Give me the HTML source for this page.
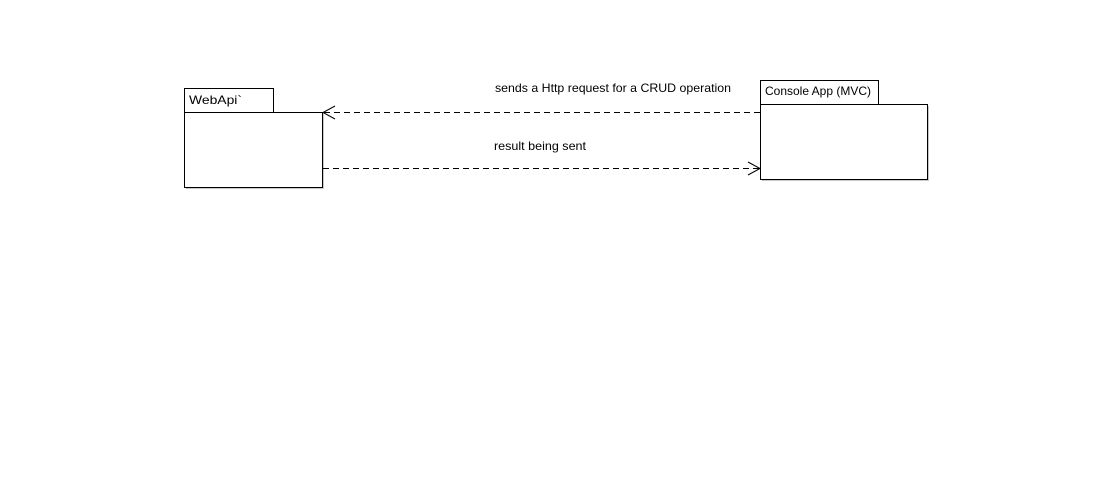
<!DOCTYPE html>
<html><head><meta charset="utf-8"><style>
html,body{margin:0;padding:0;background:#fff;width:1112px;height:478px;overflow:hidden}
svg{display:block}
text{font-family:"Liberation Sans",sans-serif;font-size:12px;fill:#000}
</style></head><body>
<svg width="1112" height="478" viewBox="0 0 1112 478" xmlns="http://www.w3.org/2000/svg">
<g shape-rendering="crispEdges">
<rect x="186" y="114" width="138" height="75" fill="#c8c8c8"/>
<rect x="184.5" y="88.5" width="89" height="24" fill="#fff" stroke="#000"/>
<rect x="184.5" y="112.5" width="138" height="75" fill="#fff" stroke="#000"/>
<rect x="762" y="106" width="167" height="75" fill="#c8c8c8"/>
<rect x="760.5" y="80.5" width="118" height="24" fill="#fff" stroke="#000"/>
<rect x="760.5" y="104.5" width="167" height="75" fill="#fff" stroke="#000"/>
<line x1="760" y1="112.5" x2="323" y2="112.5" stroke="#000" stroke-dasharray="6,4"/>
<line x1="323" y1="168.5" x2="760" y2="168.5" stroke="#000" stroke-dasharray="6,4"/>
</g>
<polyline points="335,106 323,112.5 335,119" fill="none" stroke="#000"/>
<polyline points="748,162 760,168.5 748,175" fill="none" stroke="#000"/>
<text x="189" y="104" textLength="53" lengthAdjust="spacingAndGlyphs">WebApi`</text>
<text x="765" y="95" textLength="106" lengthAdjust="spacingAndGlyphs">Console App (MVC)</text>
<text x="495" y="92" textLength="236" lengthAdjust="spacingAndGlyphs">sends a Http request for a CRUD operation</text>
<text x="494" y="150" textLength="92" lengthAdjust="spacingAndGlyphs">result being sent</text>
</svg>
</body></html>
